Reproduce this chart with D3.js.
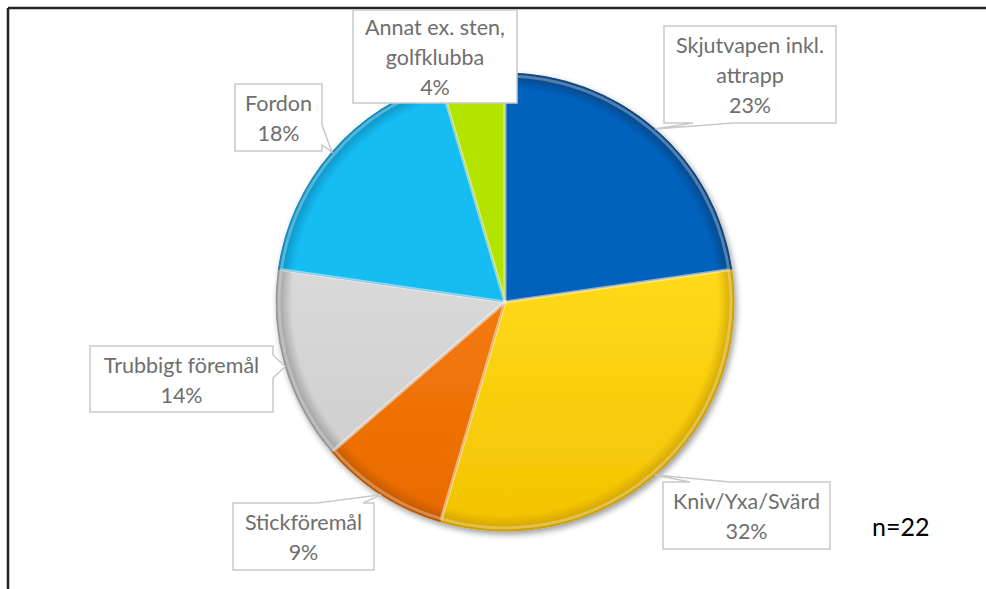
<!DOCTYPE html>
<html>
<head>
<meta charset="utf-8">
<script src="https://cdn.jsdelivr.net/npm/d3@7"></script>
<style>
  body { margin: 0; background: #fff; }
  svg { display: block; }
</style>
</head>
<body>
<div id="chart"></div>
<script>
// ---- data ----
var categories = ["Skjutvapen inkl. attrapp", "Kniv/Yxa/Svärd", "Stickföremål", "Trubbigt föremål", "Fordon", "Annat ex. sten, golfklubba"];
var counts = [5, 7, 2, 3, 4, 1];
var percentLabels = ["23%", "32%", "9%", "14%", "18%", "4%"];
var labelLines = [["Skjutvapen inkl.", "attrapp"], ["Kniv/Yxa/Svärd"], ["Stickföremål"], ["Trubbigt föremål"], ["Fordon"], ["Annat ex. sten,", "golfklubba"]];
var sampleText = "n=22";

// ---- styles / layout ----
var colors = ["#0662bd", "#ffda1a", "#f57b0c", "#d9d9d9", "#17bdf2", "#b3e400"];
var lows = ["#0a4e98", "#f2c200", "#e86a00", "#cbcbcb", "#10a9e0", "#a6d600"];
var rims = ["#0b3f78", "#c99a00", "#b85300", "#8f8f8f", "#0b86b8", "#6e9a00"];
// callout boxes: rect + side where the pointer leaves + base along that side
var boxes = [
  {x: 664, y: 26, w: 172, h: 97, side: "bottom", b0: 693, b1: 733},
  {x: 663, y: 482, w: 167, h: 67, side: "top", b0: 690, b1: 730},
  {x: 233, y: 503, w: 141, h: 67, side: "top", b0: 317, b1: 363},
  {x: 90, y: 346, w: 183, h: 66, side: "right", b0: 355, b1: 378},
  {x: 235, y: 84, w: 87, h: 67, side: "right", b0: 125, b1: 145},
  {x: 353, y: 10, w: 164, h: 93, side: null}
];

var width = 986, height = 589;
var cx = 505, cy = 302, radius = 229;
var lineH = 30, fontSize = 21.5;

var svg = d3.select("#chart").append("svg")
  .attr("width", width).attr("height", height)
  .style("font-family", "Lato, 'Open Sans', sans-serif");

var defs = svg.append("defs");
var shadow = defs.append("filter").attr("id", "pieShadow")
  .attr("x", "-10%").attr("y", "-10%").attr("width", "120%").attr("height", "120%");
shadow.append("feGaussianBlur").attr("in", "SourceAlpha").attr("stdDeviation", 3);
shadow.append("feOffset").attr("dx", 2).attr("dy", 3).attr("result", "b");
shadow.append("feComponentTransfer").append("feFuncA").attr("type", "linear").attr("slope", 0.4);
var merge = shadow.append("feMerge");
merge.append("feMergeNode");
merge.append("feMergeNode").attr("in", "SourceGraphic");

// gradients live in the pie group's own coords (centre = 0,0)
colors.forEach(function(c, i) {
  var g = defs.append("linearGradient").attr("id", "grad" + i)
    .attr("gradientUnits", "userSpaceOnUse")
    .attr("x1", 0).attr("y1", -radius).attr("x2", 0).attr("y2", radius);
  g.append("stop").attr("offset", "0%").attr("stop-color", c);
  g.append("stop").attr("offset", "45%").attr("stop-color", c);
  g.append("stop").attr("offset", "100%").attr("stop-color", lows[i]);
  var r = defs.append("radialGradient").attr("id", "rim" + i)
    .attr("gradientUnits", "userSpaceOnUse")
    .attr("cx", 0).attr("cy", 0).attr("r", radius);
  r.append("stop").attr("offset", "93%").attr("stop-color", rims[i]).attr("stop-opacity", 0);
  r.append("stop").attr("offset", "100%").attr("stop-color", rims[i]).attr("stop-opacity", 0.9);
});

// frame (only top and left visible in the reference)
svg.append("line").attr("x1", 8).attr("y1", 8).attr("x2", width).attr("y2", 8)
  .attr("stroke", "#222").attr("stroke-width", 2.5);
svg.append("line").attr("x1", 8).attr("y1", 8).attr("x2", 8).attr("y2", height)
  .attr("stroke", "#222").attr("stroke-width", 2.5);

// ---- pie ----
var pie = d3.pie().sort(null).value(function(d) { return d; });
var arcs = pie(counts);
var arc = d3.arc().innerRadius(0).outerRadius(radius);
var bevel = d3.arc().innerRadius(0).outerRadius(radius - 3);

var pieG = svg.append("g").attr("transform", "translate(" + cx + "," + cy + ")");
var slices = pieG.append("g").attr("filter", "url(#pieShadow)");
slices.selectAll("path.slice").data(arcs).enter().append("path")
  .attr("class", "slice")
  .attr("d", arc)
  .attr("fill", function(d, i) { return "url(#grad" + i + ")"; })
  .attr("stroke", function(d, i) { return rims[i]; }).attr("stroke-width", 0.8)
  .attr("stroke-linejoin", "round");
pieG.append("g").selectAll("path").data(arcs).enter().append("path")
  .attr("d", arc)
  .attr("fill", function(d, i) { return "url(#rim" + i + ")"; });
// soft highlight along the slice edges
pieG.append("g").selectAll("path").data(arcs).enter().append("path")
  .attr("d", bevel)
  .attr("fill", "none")
  .attr("stroke", "rgba(255,255,255,0.3)").attr("stroke-width", 3)
  .attr("stroke-linejoin", "round");

// ---- callouts ----
var labels = svg.append("g");
arcs.forEach(function(d, i) {
  var b = boxes[i];
  var mid = (d.startAngle + d.endAngle) / 2;
  var tip = [cx + radius * Math.sin(mid), cy - radius * Math.cos(mid)];
  var pts;
  if (b.side === "bottom") {
    var y = b.y + b.h;
    pts = [[b.x, b.y], [b.x + b.w, b.y], [b.x + b.w, y], [b.b1, y], tip, [b.b0, y], [b.x, y]];
  } else if (b.side === "top") {
    pts = [[b.x, b.y], [b.b0, b.y], tip, [b.b1, b.y], [b.x + b.w, b.y], [b.x + b.w, b.y + b.h], [b.x, b.y + b.h]];
  } else if (b.side === "right") {
    var x = b.x + b.w;
    pts = [[b.x, b.y], [x, b.y], [x, b.b0], tip, [x, b.b1], [x, b.y + b.h], [b.x, b.y + b.h]];
  } else {
    pts = [[b.x, b.y], [b.x + b.w, b.y], [b.x + b.w, b.y + b.h], [b.x, b.y + b.h]];
  }
  labels.append("path")
    .attr("d", d3.line()(pts) + "Z")
    .attr("fill", "#fff")
    .attr("stroke", "#c9c9c9").attr("stroke-width", 1.5);

  var lines = labelLines[i].concat([percentLabels[i]]);
  var midY = b.y + b.h / 2 + 1;
  var top = midY - (lines.length - 1) * lineH / 2;
  var t = labels.append("text")
    .attr("text-anchor", "middle")
    .attr("font-size", fontSize)
    .attr("fill", "#6e6e6e");
  lines.forEach(function(s, j) {
    t.append("tspan")
      .attr("x", b.x + b.w / 2)
      .attr("y", top + j * lineH + fontSize * 0.36)
      .text(s);
  });
});

svg.append("text")
  .attr("x", 872).attr("y", 536)
  .attr("font-size", 25)
  .attr("fill", "#000")
  .text(sampleText);
</script>
</body>
</html>
